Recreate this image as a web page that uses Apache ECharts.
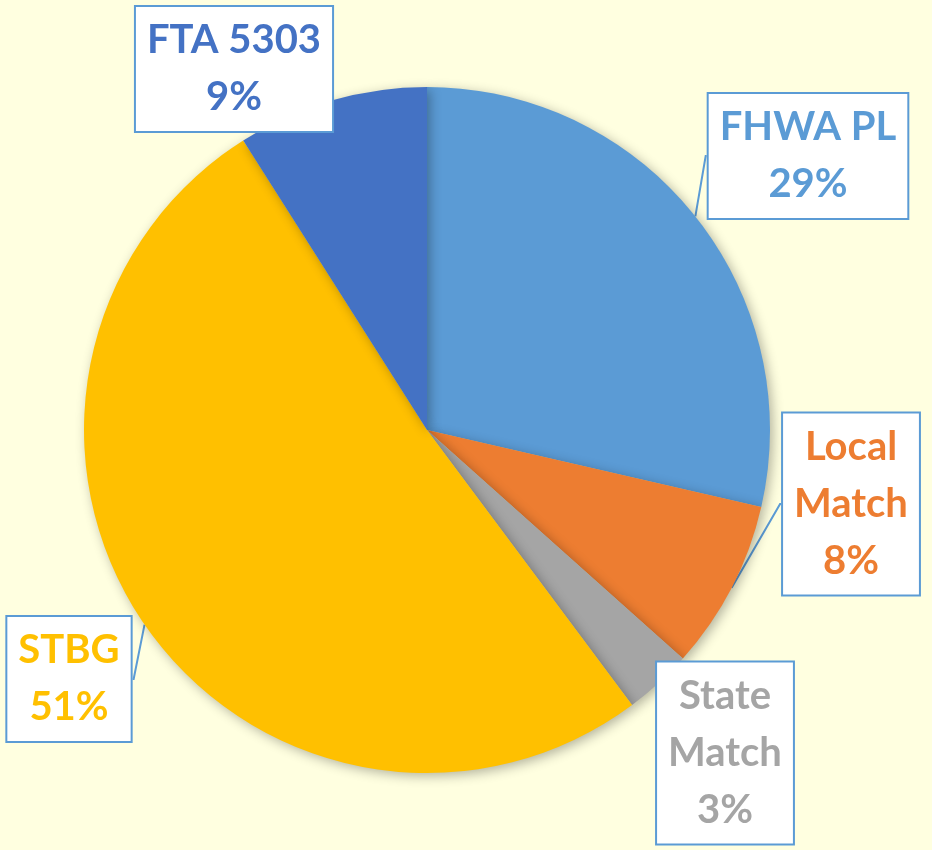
<!DOCTYPE html>
<html>
<head>
<meta charset="utf-8">
<script src="https://cdn.jsdelivr.net/npm/echarts@6/dist/echarts.min.js"></script>
<style>
  html, body { margin: 0; padding: 0; background: #FFFFE0; }
  #chart { width: 932px; height: 850px; }
</style>
</head>
<body>
<div id="chart"></div>
<script>
// funding sources, clockwise from 12 o'clock
const categories = ['FHWA PL', 'Local Match', 'State Match', 'STBG', 'FTA 5303']
const shares = [28.6, 8.0, 3.2, 51.2, 9.0]
const colors = ['#5B9BD5', '#ED7D31', '#A5A5A5', '#FFC000', '#4472C4']
const hasPointer = [true, true, false, true, false]

// where each callout box sits (center of the box)
const labelPos = [[808, 156], [851, 504], [725, 753], [69, 679], [234, 69]]

const chart = echarts.init(document.getElementById('chart'))

const data = categories.map((name, i) => ({
  name: name,
  value: shares[i],
  itemStyle: { color: colors[i] },
  label: { color: colors[i] },
  labelLine: { show: hasPointer[i] }
}))

chart.setOption({
  backgroundColor: '#FFFFE0',
  animation: false,
  series: [{
    type: 'pie',
    center: [427, 430],
    radius: 343,
    startAngle: 90,
    clockwise: true,
    percentPrecision: 0,
    avoidLabelOverlap: false,
    data: data,
    itemStyle: {
      shadowBlur: 12,
      shadowColor: 'rgba(0,0,0,0.3)',
      shadowOffsetX: 3,
      shadowOffsetY: 3
    },
    label: {
      show: true,
      position: 'outside',
      formatter: p => p.name.replace(' Match', '\nMatch') + '\n' + p.percent + '%',
      fontFamily: 'Lato',
      fontWeight: 'bold',
      fontSize: 40,
      lineHeight: 57,
      align: 'center',
      backgroundColor: '#ffffff',
      borderColor: '#5B9BD5',
      borderWidth: 2,
      padding: [5, 11]
    },
    labelLine: {
      show: true,
      length: 1,
      length2: 1,
      smooth: false,
      lineStyle: { color: '#5B9BD5', width: 2 }
    },
    labelLayout: function (params) {
      const p = labelPos[params.dataIndex]
      return { x: p[0], y: p[1], align: 'center', verticalAlign: 'middle' }
    }
  }]
})
</script>
</body>
</html>
